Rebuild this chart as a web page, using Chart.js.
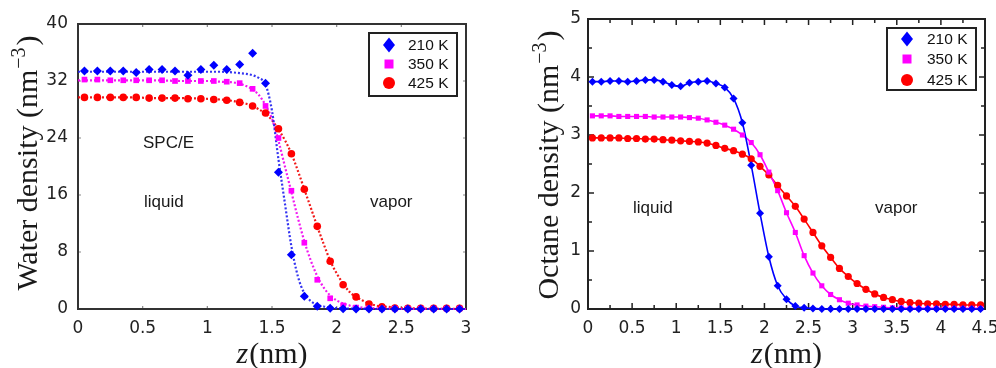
<!DOCTYPE html>
<html>
<head>
<meta charset="utf-8">
<script src="https://cdn.jsdelivr.net/npm/chart.js@4.4.1/dist/chart.umd.min.js"></script>
<style>
  html, body { margin: 0; padding: 0; background: #fff; overflow: hidden; }
  #wrap { position: relative; width: 996px; height: 368px; overflow: hidden; }
  .panel { position: absolute; top: 0; height: 368px; }
</style>
</head>
<body>
<div id="wrap">
  <div class="panel" style="left:0; width:498px"><canvas id="waterChart"></canvas></div>
  <div class="panel" style="left:490px; width:520px"><canvas id="octaneChart"></canvas></div>
</div>
<script>
// --- data ---
const temps = ["210 K", "350 K", "425 K"];

// water (SPC/E), simulation points
const waterZ = [0.05, 0.15, 0.25, 0.35, 0.45, 0.55, 0.65, 0.75, 0.85, 0.95,
  1.05, 1.15, 1.25, 1.35, 1.45, 1.55, 1.65, 1.75, 1.85, 1.95,
  2.05, 2.15, 2.25, 2.35, 2.45, 2.55, 2.65, 2.75, 2.85, 2.95];
const water210 = [33.4, 33.4, 33.4, 33.4, 33.2, 33.6, 33.6, 33.4, 32.8, 33.6,
  34.2, 33.6, 34.3, 35.9, 31.7, 19.2, 7.6, 1.8, 0.4, 0.1,
  0.05, 0, 0, 0, 0, 0, 0, 0, 0, 0];
const water350 = [32.2, 32.2, 32.1, 32.1, 32.1, 32.1, 32.1, 32.0, 32.0, 32.0,
  32.0, 31.9, 31.7, 30.9, 28.5, 24.0, 16.6, 9.3, 4.1, 1.5,
  0.5, 0.2, 0.1, 0.05, 0.05, 0.05, 0.05, 0.05, 0.05, 0.05];
const water425 = [29.7, 29.7, 29.7, 29.7, 29.7, 29.6, 29.6, 29.6, 29.5, 29.5,
  29.4, 29.3, 29.0, 28.5, 27.5, 25.3, 21.8, 16.8, 11.6, 6.7,
  3.4, 1.7, 0.7, 0.3, 0.15, 0.1, 0.1, 0.1, 0.1, 0.1];

// water, fitted profiles (dotted curves)
const waterFitZ = [0, 0.2, 0.4, 0.6, 0.8, 1.0, 1.1, 1.2, 1.25, 1.3, 1.35, 1.4, 1.45, 1.5, 1.55,
  1.6, 1.65, 1.7, 1.75, 1.8, 1.85, 1.9, 1.95, 2.0, 2.1, 2.2, 2.3, 2.4, 2.5, 2.7, 3.0];
const waterFit210 = [33.3, 33.3, 33.3, 33.3, 33.3, 33.3, 33.3, 33.2, 33.1, 33.0, 32.8, 32.4, 31.5, 27.8, 21.0,
  14.8, 8.8, 4.6, 2.2, 1.1, 0.6, 0.35, 0.2, 0.12, 0.05, 0.02, 0, 0, 0, 0, 0];
const waterFit350 = [32.1, 32.1, 32.1, 32.1, 32.0, 32.0, 31.9, 31.8, 31.6, 31.3, 30.8, 30.0, 28.6, 26.7, 23.6,
  20.0, 16.4, 12.8, 9.5, 6.8, 4.6, 3.0, 1.9, 1.2, 0.5, 0.2, 0.1, 0.05, 0.03, 0.01, 0];
const waterFit425 = [29.7, 29.7, 29.7, 29.6, 29.6, 29.5, 29.4, 29.2, 29.0, 28.8, 28.5, 28.0, 27.4, 26.5, 25.2,
  23.7, 21.8, 19.4, 16.8, 14.2, 11.6, 9.1, 6.8, 5.0, 2.4, 1.2, 0.5, 0.3, 0.15, 0.05, 0];

// octane
const octaneZ = [0.05, 0.15, 0.25, 0.35, 0.45, 0.55, 0.65, 0.75, 0.85, 0.95,
  1.05, 1.15, 1.25, 1.35, 1.45, 1.55, 1.65, 1.75, 1.85, 1.95,
  2.05, 2.15, 2.25, 2.35, 2.45, 2.55, 2.65, 2.75, 2.85, 2.95,
  3.05, 3.15, 3.25, 3.35, 3.45, 3.55, 3.65, 3.75, 3.85, 3.95,
  4.05, 4.15, 4.25, 4.35, 4.45];
const octane210 = [3.92, 3.92, 3.93, 3.93, 3.92, 3.93, 3.95, 3.95, 3.92, 3.86,
  3.84, 3.90, 3.92, 3.93, 3.89, 3.82, 3.63, 3.21, 2.48, 1.65,
  0.90, 0.40, 0.17, 0.05, 0.02, 0.01, 0, 0, 0, 0,
  0, 0, 0, 0, 0, 0, 0, 0, 0, 0,
  0, 0, 0, 0, 0];
const octane350 = [3.33, 3.33, 3.33, 3.32, 3.32, 3.32, 3.32, 3.31, 3.31, 3.31,
  3.31, 3.30, 3.29, 3.26, 3.22, 3.17, 3.10, 3.00, 2.87, 2.66,
  2.36, 2.04, 1.66, 1.32, 0.92, 0.62, 0.40, 0.25, 0.16, 0.10,
  0.07, 0.05, 0.04, 0.03, 0.02, 0.02, 0.01, 0.01, 0.01, 0.01,
  0.01, 0.01, 0.01, 0.01, 0.01];
const octane425 = [2.95, 2.95, 2.95, 2.95, 2.94, 2.94, 2.93, 2.93, 2.92, 2.91,
  2.90, 2.89, 2.88, 2.86, 2.82, 2.77, 2.73, 2.67, 2.59, 2.46,
  2.31, 2.13, 1.95, 1.77, 1.55, 1.32, 1.09, 0.89, 0.70, 0.56,
  0.44, 0.34, 0.26, 0.20, 0.16, 0.13, 0.11, 0.10, 0.09, 0.09,
  0.08, 0.08, 0.07, 0.07, 0.07];

const waterAxisX = [0, 3, 0.5];   // min, max, step
const waterAxisY = [0, 40, 8];
const octaneAxisX = [0, 4.5, 0.5];
const octaneAxisY = [0, 5, 1];

// --- styling ---
const BLUE = "#0000ff", MAGENTA = "#ff00ff", RED = "#ff0000";
const TICK_FONT = { family: "DejaVu Sans", size: 17 };

const toPoints = (zs, vs) => zs.map((z, i) => ({ x: z, y: vs[i] }));

function markerSet(label, zs, vs, style, color, radius) {
  return {
    label, data: toPoints(zs, vs), showLine: false,
    pointStyle: style, pointRadius: radius, pointHoverRadius: radius,
    backgroundColor: color, borderColor: color, borderWidth: 0,
    clip: false, order: 1,
  };
}

function curveSet(zs, vs, color, dash, width) {
  return {
    data: toPoints(zs, vs), showLine: true, pointRadius: 0,
    borderColor: color, borderWidth: width, borderDash: dash,
    cubicInterpolationMode: "monotone", fill: false, order: 2, clip: false,
  };
}

// frame, inward ticks, axis titles, in-plot labels and boxed legend
const decor = {
  id: "decor",
  beforeDatasetsDraw(chart, args, o) {
    const { ctx, chartArea: a, scales } = chart;
    ctx.save();
    ctx.strokeStyle = o.tickColor;
    ctx.lineWidth = o.tickWidth;
    const xs = scales.x, ys = scales.y;
    o.xTicks.forEach(([v, len]) => {
      const px = xs.getPixelForValue(v);
      ctx.beginPath();
      ctx.moveTo(px, a.bottom); ctx.lineTo(px, a.bottom - len);
      ctx.moveTo(px, a.top); ctx.lineTo(px, a.top + len);
      ctx.stroke();
    });
    o.yTicks.forEach(([v, len]) => {
      const py = ys.getPixelForValue(v);
      ctx.beginPath();
      ctx.moveTo(a.left, py); ctx.lineTo(a.left + len, py);
      ctx.moveTo(a.right, py); ctx.lineTo(a.right - len, py);
      ctx.stroke();
    });
    ctx.strokeStyle = o.frameColor;
    ctx.lineWidth = 2;
    ctx.strokeRect(a.left, a.top, a.right - a.left, a.bottom - a.top);
    ctx.restore();
  },
  afterDraw(chart, args, o) {
    const { ctx, chartArea: a } = chart;
    ctx.save();
    ctx.fillStyle = "#1a1a1a";
    ctx.textAlign = "left";
    ctx.textBaseline = "alphabetic";

    // y title, rotated, with superscript
    const main = "30px 'Liberation Serif'", sup = "20px 'Liberation Serif'";
    ctx.save();
    ctx.translate(o.yTitleX, o.yTitleCY);
    ctx.rotate(-Math.PI / 2);
    ctx.font = main;
    const w1 = ctx.measureText(o.yTitle).width;
    const w3 = ctx.measureText(")").width;
    ctx.font = sup;
    const w2 = ctx.measureText("\u22123").width;
    let x = -(w1 + w2 + w3 + 3) / 2;
    ctx.font = main; ctx.fillText(o.yTitle, x, 0); x += w1 + 1;
    ctx.font = sup; ctx.fillText("\u22123", x, -12); x += w2 + 2;
    ctx.font = main; ctx.fillText(")", x, 0);
    ctx.restore();

    // x title: italic z then (nm)
    const cx = (a.left + a.right) / 2;
    ctx.font = "italic 30px 'Liberation Serif'";
    const wz = ctx.measureText("z").width;
    ctx.font = main;
    const wn = ctx.measureText("(nm)").width;
    let xx = cx - (wz + wn + 1) / 2;
    ctx.font = "italic 30px 'Liberation Serif'";
    ctx.fillText("z", xx, o.xTitleY);
    ctx.font = main;
    ctx.fillText("(nm)", xx + wz + 1, o.xTitleY);

    // labels inside plot
    ctx.font = "17px 'Liberation Sans'";
    o.notes.forEach(n => ctx.fillText(n.text, n.x, n.y));

    // legend
    const L = o.legend;
    ctx.fillStyle = "#fff";
    ctx.fillRect(L.x, L.y, L.w, L.h);
    ctx.strokeStyle = "#222";
    ctx.lineWidth = 2;
    ctx.strokeRect(L.x, L.y, L.w, L.h);
    ctx.font = "15.5px 'Liberation Sans'";
    ctx.textBaseline = "middle";
    L.items.forEach((it, i) => {
      const my = L.rows[i];
      ctx.fillStyle = it.color;
      ctx.beginPath();
      if (it.shape === "diamond") {
        ctx.moveTo(L.mx, my - 7.5); ctx.lineTo(L.mx + 6, my);
        ctx.lineTo(L.mx, my + 7.5); ctx.lineTo(L.mx - 6, my);
        ctx.closePath();
      } else if (it.shape === "square") {
        ctx.rect(L.mx - 4.5, my - 4.5, 9, 9);
      } else {
        ctx.arc(L.mx, my, 6, 0, Math.PI * 2);
      }
      ctx.fill();
      ctx.fillStyle = "#111";
      ctx.fillText(it.label, L.tx, my + 1);
    });
    ctx.restore();
  },
};

function axisTicks(start, end, step) {
  const out = [];
  for (let v = start + step; v < end - 1e-9; v += step) out.push(Number(v.toFixed(4)));
  return out;
}

// plain labels: 1 not 1.0
const plainLabel = v => String(Number(Number(v).toFixed(2)));

function makeScales(ax, ay, yWidth, yPad) {
  return {
    x: {
      type: "linear", min: ax[0], max: ax[1],
      ticks: { stepSize: ax[2], font: TICK_FONT, color: "#222", padding: 9, maxRotation: 0, callback: plainLabel },
      grid: { display: false, drawTicks: false }, border: { display: false },
      afterFit: s => { s.height = 59; },
    },
    y: {
      type: "linear", min: ay[0], max: ay[1],
      ticks: { stepSize: ay[2], font: TICK_FONT, color: "#222", padding: yPad, callback: plainLabel },
      grid: { display: false, drawTicks: false }, border: { display: false },
      afterFit: s => { s.width = yWidth; },
    },
  };
}

const legendItems = [
  { label: temps[0], color: BLUE, shape: "diamond" },
  { label: temps[1], color: MAGENTA, shape: "square" },
  { label: temps[2], color: RED, shape: "circle" },
];

// --- left: water ---
new Chart(document.getElementById("waterChart"), {
  type: "scatter",
  data: {
    datasets: [
      markerSet(temps[0], waterZ, water210, "rectRot", BLUE, 4.5),
      markerSet(temps[1], waterZ, water350, "rect", MAGENTA, 4),
      markerSet(temps[2], waterZ, water425, "circle", RED, 3.8),
      curveSet(waterFitZ, waterFit210, "rgba(30,30,240,0.9)", [2, 2], 2.2),
      curveSet(waterFitZ, waterFit350, "rgba(240,0,240,0.9)", [2, 2], 2.2),
      curveSet(waterFitZ, waterFit425, "rgba(240,0,0,0.9)", [2, 2], 2.2),
    ],
  },
  options: {
    responsive: true, maintainAspectRatio: false, animation: false, devicePixelRatio: 1,
    layout: { padding: { top: 24, right: 32, left: 0, bottom: 0 } },
    scales: makeScales(waterAxisX, waterAxisY, 78, 10),
    plugins: {
      legend: { display: false }, tooltip: { enabled: false },
      decor: {
        tickColor: "#888", tickWidth: 1.2, frameColor: "#333",
        xTicks: axisTicks(0, 3, 0.5).map(v => [v, 3]),
        yTicks: axisTicks(0, 40, 8).map(v => [v, 3]),
        yTitle: "Water density (nm", yTitleX: 37, yTitleCY: 163, xTitleY: 363,
        notes: [
          { text: "SPC/E", x: 143, y: 148 },
          { text: "liquid", x: 144, y: 207 },
          { text: "vapor", x: 370, y: 207 },
        ],
        legend: { x: 369, y: 33, w: 88, h: 63, rows: [45, 64, 83], mx: 389, tx: 408, items: legendItems },
      },
    },
  },
  plugins: [decor],
});

// --- right: octane ---
new Chart(document.getElementById("octaneChart"), {
  type: "scatter",
  data: {
    datasets: [
      markerSet(temps[0], octaneZ, octane210, "rectRot", BLUE, 4),
      markerSet(temps[1], octaneZ, octane350, "rect", MAGENTA, 3.6),
      markerSet(temps[2], octaneZ, octane425, "circle", RED, 3.6),
      curveSet(octaneZ, octane210, BLUE, [], 1.6),
      curveSet(octaneZ, octane350, MAGENTA, [], 1.6),
      curveSet(octaneZ, octane425, RED, [], 1.6),
    ],
  },
  options: {
    responsive: true, maintainAspectRatio: false, animation: false, devicePixelRatio: 1,
    layout: { padding: { top: 19, right: 25, left: 0, bottom: 0 } },
    scales: makeScales(octaneAxisX, octaneAxisY, 98, 7),
    plugins: {
      legend: { display: false }, tooltip: { enabled: false },
      decor: {
        tickColor: "#222", tickWidth: 1.5, frameColor: "#222",
        xTicks: axisTicks(0, 4.5, 0.25).map((v, i) => [v, i % 2 === 1 ? 6 : 4]),
        yTicks: axisTicks(0, 5, 0.5).map((v, i) => [v, i % 2 === 1 ? 6 : 4]),
        yTitle: "Octane density (nm", yTitleX: 68, yTitleCY: 165, xTitleY: 363,
        notes: [
          { text: "liquid", x: 143, y: 213 },
          { text: "vapor", x: 385, y: 213 },
        ],
        legend: { x: 397, y: 28, w: 89, h: 62, rows: [39, 59, 80], mx: 417, tx: 437, items: legendItems },
      },
    },
  },
  plugins: [decor],
});
</script>
</body>
</html>
